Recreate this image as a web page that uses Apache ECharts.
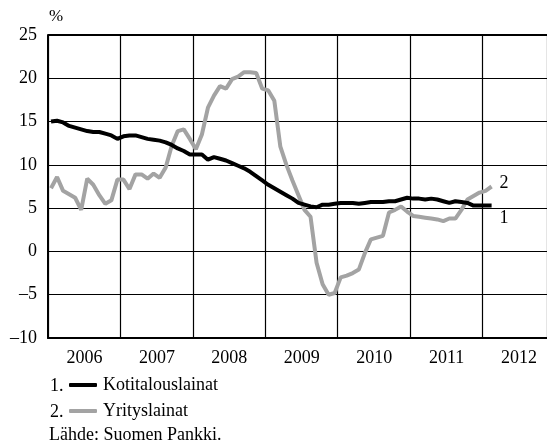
<!DOCTYPE html>
<html><head><meta charset="utf-8">
<script src="https://cdn.jsdelivr.net/npm/echarts@6/dist/echarts.min.js"></script>
<style>html,body{margin:0;padding:0;background:#fff}#c{width:547px;height:444px}</style>
</head><body><div id="c"></div>
<script>
const startYear = 2006;
const yearLabels = [2006, 2007, 2008, 2009, 2010, 2011, 2012];
const yTicks = [-10, -5, 0, 5, 10, 15, 20, 25];
const seriesNames = ['Kotitalouslainat', 'Yrityslainat'];
// monthly values Jan 2006 .. Feb 2012
const kotitalous = [15.0,15.1,14.9,14.5,14.3,14.1,13.9,13.8,13.8,13.6,13.4,13.0,
  13.3,13.4,13.4,13.2,13.0,12.9,12.8,12.6,12.3,11.9,11.6,11.2,
  11.2,11.2,10.6,10.9,10.7,10.5,10.2,9.9,9.6,9.2,8.7,8.2,
  7.7,7.3,6.9,6.5,6.1,5.6,5.4,5.2,5.1,5.4,5.4,5.5,
  5.6,5.6,5.6,5.5,5.6,5.7,5.7,5.7,5.8,5.8,6.0,6.2,
  6.1,6.1,6.0,6.1,6.0,5.8,5.6,5.8,5.7,5.6,5.3,5.3,
  5.3,5.3];
const yritys = [7.3,8.6,7.0,6.6,6.2,4.8,8.4,7.7,6.5,5.5,5.9,8.3,
  8.3,7.2,8.9,8.9,8.4,9.0,8.5,9.7,12.2,13.9,14.1,13.0,
  11.8,13.5,16.6,18.0,19.1,18.8,19.9,20.2,20.7,20.7,20.6,18.8,
  18.6,17.4,12.1,10.0,8.2,6.5,4.8,4.0,-1.3,-3.8,-5.0,-4.8,
  -3.0,-2.8,-2.5,-2.1,-0.2,1.4,1.6,1.8,4.5,4.8,5.2,4.6,
  4.1,4.0,3.9,3.8,3.7,3.5,3.8,3.8,4.8,6.0,6.4,6.8,
  7.0,7.5];

function toPairs(arr){ return arr.map((v,i)=>[startYear + (i+0.5)/12, v]); }

const font = 'Liberation Serif';
const fs = 18;
const chart = echarts.init(document.getElementById('c'), null, {renderer:'canvas'});
chart.setOption({
  animation:false,
  backgroundColor:'#fff',
  textStyle:{fontFamily:font},
  grid:{left:48, right:0, top:35, bottom:106, containLabel:false},
  xAxis:{
    type:'value', min:2006, max:2012.89, interval:1,
    axisLine:{show:true, onZero:false, lineStyle:{color:'#000', width:2}},
    axisTick:{show:false},
    splitLine:{show:true, lineStyle:{color:'#000', width:1.2}},
    axisLabel:{
      show:true, color:'#000', fontFamily:font, fontSize:fs, margin:11,
      showMinLabel:true, showMaxLabel:false,
      padding:[0,0,0,73],
      formatter:function(v){ return yearLabels.indexOf(Math.round(v))>=0 && Math.abs(v-Math.round(v))<1e-6 ? String(Math.round(v)) : ''; }
    }
  },
  yAxis:{
    type:'value', min:yTicks[0], max:yTicks[yTicks.length-1], interval:5,
    axisLine:{show:true, lineStyle:{color:'#000', width:2}},
    axisTick:{show:false},
    splitLine:{show:true, lineStyle:{color:'#000', width:1.2}},
    axisLabel:{color:'#000', fontFamily:font, fontSize:fs, margin:11,
      formatter:function(v){ return String(v).replace('-', '\u2013'); }}
  },
  legend:{
    orient:'vertical', left:69, top:376, itemGap:8, padding:0,
    itemWidth:28, itemHeight:4, icon:'roundRect',
    textStyle:{color:'#000', fontFamily:font, fontSize:fs, padding:[0,0,0,1]},
    data:seriesNames
  },
  graphic:[
    {type:'text', x:49, y:17, style:{text:'%', font:'17px "Liberation Serif"', fill:'#000', verticalAlign:'middle'}},
    {type:'text', x:50, y:386, style:{text:'1.', font:'18px "Liberation Serif"', fill:'#000', verticalAlign:'middle'}},
    {type:'text', x:50, y:412, style:{text:'2.', font:'18px "Liberation Serif"', fill:'#000', verticalAlign:'middle'}},
    {type:'text', x:49, y:435, style:{text:'Lähde: Suomen Pankki.', font:'18px "Liberation Serif"', fill:'#000', verticalAlign:'middle'}},
    {type:'rect', x:48, y:34, shape:{width:499, height:2}, style:{fill:'#000'}}
  ],
  series:[
    {name:seriesNames[1], type:'line', data:toPairs(yritys), showSymbol:false, symbol:'none',
     lineStyle:{color:'#a3a3a3', width:4}, itemStyle:{color:'#a3a3a3'}, z:2,
     endLabel:{show:true, formatter:'2', color:'#000', fontFamily:font, fontSize:fs, offset:[0,-3]}},
    {name:seriesNames[0], type:'line', data:toPairs(kotitalous), showSymbol:false, symbol:'none',
     lineStyle:{color:'#000', width:4}, itemStyle:{color:'#000'}, z:3,
     endLabel:{show:true, formatter:'1', color:'#000', fontFamily:font, fontSize:fs, offset:[0,13]}}
  ]
});
</script></body></html>
